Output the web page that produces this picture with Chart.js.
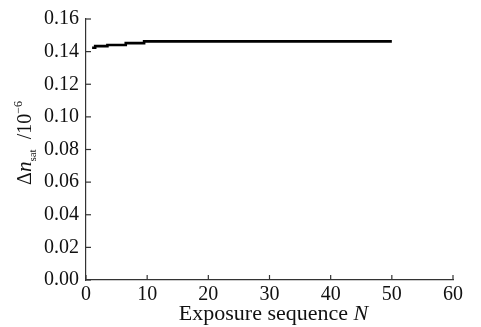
<!DOCTYPE html>
<html>
<head>
<meta charset="utf-8">
<script src="https://cdn.jsdelivr.net/npm/chart.js@4/dist/chart.umd.min.js"></script>
<style>
  body { margin: 0; background: #fff; }
  canvas { display: block; }
</style>
</head>
<body>
<canvas id="chart" width="481" height="327"></canvas>
<script>
// exposure number N (x) and saturated index change in units of 1e-6 (y)
const exposureN = [
  1, 2, 3, 4, 5, 6, 7, 8, 9, 10,
  11, 12, 13, 14, 15, 16, 17, 18, 19, 20,
  21, 22, 23, 24, 25, 26, 27, 28, 29, 30,
  31, 32, 33, 34, 35, 36, 37, 38, 39, 40,
  41, 42, 43, 44, 45, 46, 47, 48, 49, 50
];
const deltaNsat = [
  0.1424, 0.1434, 0.1434, 0.1441, 0.1441, 0.1441, 0.1452, 0.1452, 0.1452, 0.1463,
  0.1463, 0.1463, 0.1463, 0.1463, 0.1463, 0.1463, 0.1463, 0.1463, 0.1463, 0.1463,
  0.1463, 0.1463, 0.1463, 0.1463, 0.1463, 0.1463, 0.1463, 0.1463, 0.1463, 0.1463,
  0.1463, 0.1463, 0.1463, 0.1463, 0.1463, 0.1463, 0.1463, 0.1463, 0.1463, 0.1463,
  0.1463, 0.1463, 0.1463, 0.1463, 0.1463, 0.1463, 0.1463, 0.1463, 0.1463, 0.1463
];
const xTitle = "Exposure sequence ";
const xTitleVar = "N";

const serif = "'Liberation Serif', 'DejaVu Serif', serif";
const axisColor = "#333";

// inward tick marks + axis titles (with sub/superscript)
const decorPlugin = {
  id: "decor",
  afterDraw(chart) {
    const ctx = chart.ctx;
    const area = chart.chartArea;
    const xs = chart.scales.x;
    const ys = chart.scales.y;

    ctx.save();
    ctx.strokeStyle = axisColor;
    ctx.lineWidth = 1.2;
    xs.ticks.forEach((t) => {
      const px = xs.getPixelForValue(t.value);
      ctx.beginPath();
      ctx.moveTo(px, area.bottom);
      ctx.lineTo(px, area.bottom - 5);
      ctx.stroke();
    });
    ys.ticks.forEach((t) => {
      const py = ys.getPixelForValue(t.value);
      ctx.beginPath();
      ctx.moveTo(area.left, py);
      ctx.lineTo(area.left + 5, py);
      ctx.stroke();
    });

    // x title
    ctx.fillStyle = "#111";
    ctx.textBaseline = "alphabetic";
    ctx.font = "22px " + serif;
    const w1 = ctx.measureText(xTitle).width;
    ctx.font = "italic 22px " + serif;
    const w2 = ctx.measureText(xTitleVar).width;
    let x0 = (area.left + area.right) / 2 - (w1 + w2) / 2 + 4;
    ctx.font = "22px " + serif;
    ctx.fillText(xTitle, x0, 320);
    ctx.font = "italic 22px " + serif;
    ctx.fillText(xTitleVar, x0 + w1, 320);

    // y title, rotated
    const parts = [
      { text: "\u0394", font: "20px " + serif, dy: 0 },
      { text: "n", font: "italic 21px " + serif, dy: 0 },
      { text: "sat", font: "11px " + serif, dy: 5 },
      { text: "  /10", font: "20px " + serif, dy: 0 },
      { text: "\u22126", font: "12px " + serif, dy: -9 }
    ];
    let total = 0;
    parts.forEach((p) => {
      ctx.font = p.font;
      p.w = ctx.measureText(p.text).width;
      total += p.w;
    });
    ctx.translate(31, 143);
    ctx.rotate(-Math.PI / 2);
    let cx = -total / 2;
    parts.forEach((p) => {
      ctx.font = p.font;
      ctx.fillText(p.text, cx, p.dy);
      cx += p.w;
    });
    ctx.restore();
  }
};

new Chart(document.getElementById("chart"), {
  type: "line",
  data: {
    datasets: [
      {
        data: exposureN.map((n, i) => ({ x: n, y: deltaNsat[i] })),
        borderColor: "#000",
        borderWidth: 2.6,
        pointRadius: 0,
        stepped: "middle",
        fill: false
      }
    ]
  },
  options: {
    responsive: false,
    animation: false,
    layout: { padding: { top: 15, right: 28, left: 0, bottom: 0 } },
    plugins: {
      legend: { display: false },
      tooltip: { enabled: false }
    },
    scales: {
      x: {
        type: "linear",
        min: 0,
        max: 60,
        afterFit: (scale) => { scale.height = 47; },
        ticks: {
          stepSize: 10,
          padding: 3,
          color: "#111",
          font: { family: serif, size: 20 }
        },
        grid: { drawOnChartArea: false, drawTicks: false },
        border: { color: axisColor, width: 1.2 }
      },
      y: {
        min: 0,
        max: 0.16,
        afterFit: (scale) => { scale.width = 86; },
        ticks: {
          stepSize: 0.02,
          padding: 7,
          color: "#111",
          font: { family: serif, size: 20 },
          callback: (v) => v.toFixed(2)
        },
        grid: { drawOnChartArea: false, drawTicks: false },
        border: { color: axisColor, width: 1.2 }
      }
    }
  },
  plugins: [decorPlugin]
});
</script>
</body>
</html>
